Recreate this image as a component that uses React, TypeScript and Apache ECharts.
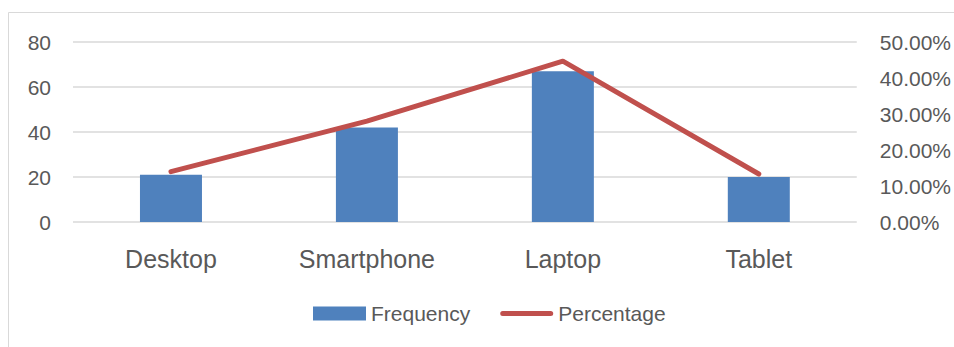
import React, { useEffect, useRef } from "react";
import * as echarts from "echarts";

const categories = ["Desktop", "Smartphone", "Laptop", "Tablet"];
const frequency = [21, 42, 67, 20];
const percentage = [0.14, 0.28, 0.4467, 0.1333];
const countTicks = { min: 0, max: 80, interval: 20 };
const shareTicks = { min: 0, max: 0.5, interval: 0.1 };

const FONT = "'Liberation Sans', Arial, sans-serif";
const TEXT = "#595959";
const GRID = "#D9D9D9";
const BAR_COLOR = "#4F81BD";
const LINE_COLOR = "#C0504D";

// Thick rounded stroke for the line entry, padded to the legend's icon box.
const LINE_ICON =
  "path://M0,0 M53,14 M2.5,4.5 L50.5,4.5 A2.5,2.5 0 0 1 50.5,9.5 L2.5,9.5 A2.5,2.5 0 0 1 2.5,4.5 Z";

export default function App() {
  const ref = useRef<HTMLDivElement>(null);

  useEffect(() => {
    if (!ref.current) return;
    const chart = echarts.init(ref.current, null, { renderer: "svg" });
    chart.setOption({
      animation: false,
      backgroundColor: "#ffffff",
      textStyle: { fontFamily: FONT, color: TEXT },
      graphic: [
        {
          type: "rect",
          shape: { x: 8.5, y: 12.5, width: 1000, height: 400 },
          style: { fill: "none", stroke: GRID, lineWidth: 1 },
          silent: true,
        },
      ],
      grid: { left: 73, right: 97, top: 42, bottom: 125, containLabel: false },
      legend: {
        left: 308,
        top: 298,
        itemWidth: 53,
        itemHeight: 14,
        itemGap: 30,
        textStyle: { fontFamily: FONT, fontSize: 21, color: TEXT },
        data: [
          { name: "Frequency", icon: "rect" },
          {
            name: "Percentage",
            icon: LINE_ICON,
            itemStyle: { color: LINE_COLOR, borderWidth: 0 },
          },
        ],
      },
      xAxis: {
        type: "category",
        data: categories,
        axisLine: { show: false },
        axisTick: { show: false },
        axisLabel: { fontFamily: FONT, fontSize: 25, color: TEXT, margin: 24 },
      },
      yAxis: [
        {
          type: "value",
          ...countTicks,
          axisLine: { show: false },
          axisTick: { show: false },
          splitLine: { lineStyle: { color: GRID, width: 1.5 } },
          axisLabel: { fontFamily: FONT, fontSize: 21, color: TEXT, margin: 22 },
        },
        {
          type: "value",
          ...shareTicks,
          axisLine: { show: false },
          axisTick: { show: false },
          splitLine: { show: false },
          axisLabel: {
            fontFamily: FONT,
            fontSize: 21,
            color: TEXT,
            margin: 23,
            formatter: (v: number) => (v * 100).toFixed(2) + "%",
          },
        },
      ],
      series: [
        {
          name: "Frequency",
          type: "bar",
          data: frequency,
          barWidth: 62,
          itemStyle: { color: BAR_COLOR },
        },
        {
          name: "Percentage",
          type: "line",
          yAxisIndex: 1,
          data: percentage,
          symbol: "none",
          itemStyle: { color: LINE_COLOR },
          lineStyle: { color: LINE_COLOR, width: 5, cap: "round", join: "round" },
        },
      ],
    });
    return () => chart.dispose();
  }, []);

  return (
    <div
      ref={ref}
      style={{ position: "fixed", left: 0, top: 0, width: 954, height: 347 }}
    />
  );
}
